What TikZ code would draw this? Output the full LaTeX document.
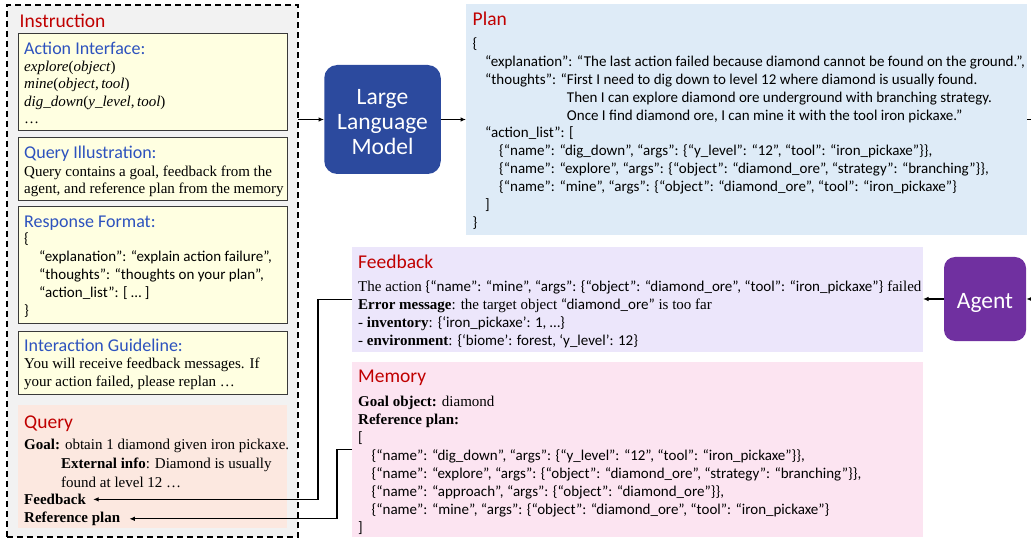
\documentclass[tikz,border=0pt]{standalone}
\usepackage{fontspec}
\setmainfont{Liberation Serif}
\setsansfont{Carlito}
\usetikzlibrary{arrows.meta,calc}

\definecolor{titlered}{HTML}{C00000}
\definecolor{titleblue}{HTML}{2D52BE}
\definecolor{graybg}{HTML}{F2F2F2}
\definecolor{yellowbg}{HTML}{FFFFE1}
\definecolor{boxgray}{HTML}{3A3A3A}
\definecolor{querybg}{HTML}{FCE8E0}
\definecolor{planbg}{HTML}{DEEBF7}
\definecolor{feedbg}{HTML}{ECE6FB}
\definecolor{membg}{HTML}{FCE4F1}
\definecolor{llmblue}{HTML}{2C4A9E}
\definecolor{agentpurple}{HTML}{7030A0}

\newcommand{\sfj}[1]{{\sffamily #1}}

\begin{document}
\begin{tikzpicture}[x=1pt,y=-1pt,
  panel/.style={anchor=north west, inner sep=0pt, outer sep=0pt},
  ybox/.style={panel, fill=yellowbg, draw=boxgray, line width=0.9pt},
  redtitle/.style={anchor=base west, inner sep=0pt, text=titlered,
    font=\sffamily\fontsize{19.5}{22}\selectfont},
  bluetitle/.style={anchor=base west, inner sep=0pt, text=titleblue,
    font=\sffamily\fontsize{18}{20}\selectfont},
  body/.style={anchor=north west, inner sep=0pt, align=left,
    execute at begin node={\strut}},
  line/.style={anchor=base west, inner sep=0pt,
    font=\fontsize{15}{18}\selectfont},
  model/.style={rounded corners=13pt, inner sep=0pt},
  modeltext/.style={text=white, align=center, inner sep=0pt,
    font=\sffamily\fontsize{23.5}{25}\selectfont},
  arr/.style={-{Latex[length=5.5pt,width=4.5pt]}, line width=1.1pt}
]
\useasboundingbox (0,0) rectangle (1031,540);

% ---------------- Instruction ----------------
\node[panel, fill=graybg, draw=black, dashed, dash pattern=on 6pt off 4pt,
  line width=1.3pt, minimum width=291pt, minimum height=532pt] (instr) at (7,5) {};
\node[redtitle] (instrt) at (19.5,27.5) {Instruction};

\node[ybox, minimum width=269pt, minimum height=97pt] (ai) at (18,33) {};
\node[bluetitle] (ait) at (24,54.5) {Action Interface:};
\node[body, font=\fontsize{15}{17.6}\selectfont] (aib) at (24,60.4)
  {\textit{explore}(\textit{object})\\
   \textit{mine}(\textit{object},\,\textit{tool})\\
   \textit{dig\_down}(\textit{y\_level},\,\textit{tool})\\
   …};

\node[ybox, minimum width=269pt, minimum height=63pt] (qi) at (18,137) {};
\node[bluetitle] (qit) at (24,158.5) {Query Illustration:};
\node[body, font=\fontsize{15}{17.5}\selectfont] (qib) at (24,165.4)
  {Query contains a goal, feedback from the\\
   agent, and reference plan from the memory};

\node[ybox, minimum width=269pt, minimum height=117pt] (rf) at (18,206) {};
\node[bluetitle] (rft) at (24,227.5) {Response Format:};
\node[body, font=\sffamily\fontsize{15}{18}\selectfont] (rfb) at (24,232.4)
  {\{\\
   \hspace*{15pt}“explanation”: “explain action failure”,\\
   \hspace*{15pt}“thoughts”: “thoughts on your plan”,\\
   \hspace*{15pt}“action\_list”: [ … ]\\
   \}};

\node[ybox, minimum width=269pt, minimum height=63pt] (ig) at (18,331) {};
\node[bluetitle] (igt) at (24,351) {Interaction Guideline:};
\node[body, font=\fontsize{15}{18.5}\selectfont] (igb) at (24,357.4)
  {You will receive feedback messages. If\\
   your action failed, please replan …};

\node[panel, fill=querybg, minimum width=269pt, minimum height=123pt] (query) at (18,405) {};
\node[redtitle] (queryt) at (24,428.5) {Query};
\node[body, font=\fontsize{15}{19}\selectfont] (qgoal) at (24,438.4)
  {\textbf{Goal:} obtain 1 diamond given iron pickaxe.\\
   \hspace*{37pt}\textbf{External info}: Diamond is usually\\
   \hspace*{37pt}found at level 12 …};
\node[line] (qfb) at (24,504.5) {\textbf{Feedback}};
\node[line] (qrp) at (24,522.5) {\textbf{Reference plan}};

% ---------------- LLM ----------------
\node[model, fill=llmblue, minimum width=116.5pt, minimum height=109pt] (llm)
  at (382.5,119.5) {};
\node[modeltext] (llmt) at ([yshift=-3pt]llm.center) {Large\\Language\\Model};

% ---------------- Plan ----------------
\node[panel, fill=planbg, minimum width=561pt, minimum height=231pt] (plan) at (466,4) {};
\node[redtitle] (plant) at (472.5,25.5) {Plan};
\node[body, font=\sffamily\fontsize{15}{17.9}\selectfont] (planb) at (472.5,37.4)
  {\{\\
   \hspace*{12.5pt}“explanation”: “The last action failed because diamond cannot be found on the ground.”,\\
   \hspace*{12.5pt}“thoughts”: “First I need to dig down to level 12 where diamond is usually found.\\
   \hspace*{12.5pt}\phantom{“thoughts”: “}Then I can explore diamond ore underground with branching strategy.\\
   \hspace*{12.5pt}\phantom{“thoughts”: “}Once I find diamond ore, I can mine it with the tool iron pickaxe.”\\
   \hspace*{12.5pt}“action\_list”: [\\
   \hspace*{26.5pt}\{“name”: “dig\_down”, “args”: \{“y\_level”: “12”, “tool”: “iron\_pickaxe”\}\},\\
   \hspace*{26.5pt}\{“name”: “explore”, “args”: \{“object”: “diamond\_ore”, “strategy”: “branching”\}\},\\
   \hspace*{26.5pt}\{“name”: “mine”, “args”: \{“object”: “diamond\_ore”, “tool”: “iron\_pickaxe”\}\\
   \hspace*{12.5pt}]\\
   \}};

% ---------------- Feedback ----------------
\node[panel, fill=feedbg, minimum width=571pt, minimum height=105pt] (fb) at (352,247) {};
\node[redtitle] (fbt) at (358,268.5) {Feedback};
\node[body, font=\fontsize{15}{18}\selectfont] (fbb) at (358,280.4)
  {The action \sfj{\{“name”: “mine”, “args”: \{“object”: “diamond\_ore”, “tool”: “iron\_pickaxe”\}} failed\\
   \textbf{Error message}: the target object \sfj{“diamond\_ore”} is too far\\
   - \textbf{inventory}: \sfj{\{‘iron\_pickaxe’: 1, …\}}\\
   - \textbf{environment}: \sfj{\{‘biome’: forest, ‘y\_level’: 12\}}};

% ---------------- Agent ----------------
\node[model, fill=agentpurple, rounded corners=11pt, minimum width=82pt,
  minimum height=84pt] (agent) at (985,299) {};
\node[modeltext] (agentt) at ([yshift=-3.5pt]agent.center) {Agent};

% ---------------- Memory ----------------
\node[panel, fill=membg, minimum width=571pt, minimum height=175pt] (mem) at (352,362) {};
\node[redtitle] (memt) at (358,382.5) {Memory};
\node[body, font=\fontsize{15}{18}\selectfont] (memb) at (358,395.4)
  {\textbf{Goal object:} diamond\\
   \textbf{Reference plan:}\\
   \sfj{{[}}\\
   \sfj{\hspace*{13.5pt}\{“name”: “dig\_down”, “args”: \{“y\_level”: “12”, “tool”: “iron\_pickaxe”\}\},}\\
   \sfj{\hspace*{13.5pt}\{“name”: “explore”, “args”: \{“object”: “diamond\_ore”, “strategy”: “branching”\}\},}\\
   \sfj{\hspace*{13.5pt}\{“name”: “approach”, “args”: \{“object”: “diamond\_ore”\}\},}\\
   \sfj{\hspace*{13.5pt}\{“name”: “mine”, “args”: \{“object”: “diamond\_ore”, “tool”: “iron\_pickaxe”\}}\\
   \sfj{]}};

% ---------------- Connectors ----------------
\coordinate (planout) at (1045,119.5);
\coordinate (agentin) at (1045,299);
\draw[arr] (instr.east |- llm.west) -- (llm.west);
\draw[arr] (llm.east) -- (plan.west |- llm.east);
\draw[arr] (plan.east |- planout) -- (planout);
\draw[arr] (agentin) -- (agent.east);
\draw[arr] (agent.west) -- (fb.east |- agent.west);
\draw[arr] (fb.west) -- ++(-34,0) |- ([xshift=7pt]qfb.east);
\draw[arr] (mem.west) -- ++(-15,0) |- ([xshift=9pt]qrp.east);
\end{tikzpicture}
\end{document}
